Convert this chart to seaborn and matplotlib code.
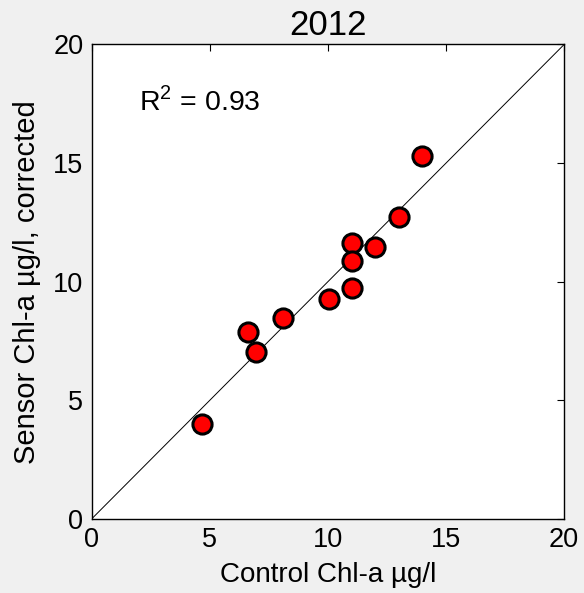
import matplotlib
matplotlib.use("Agg")
import matplotlib.pyplot as plt
import seaborn as sns
import pandas as pd

control = [4.67, 6.6, 6.97, 8.11, 10.03, 11.03, 11.03, 11.03, 12.01, 13.03, 13.99]
sensor = [4.0, 7.89, 7.05, 8.48, 9.27, 11.63, 10.86, 9.73, 11.45, 12.73, 15.29]
ticks = [0, 5, 10, 15, 20]
title = "2012"
xlabel = "Control Chl-a µg/l"
ylabel = "Sensor Chl-a µg/l, corrected"
r2_text = "R$^2$ = 0.93"

df = pd.DataFrame({"control": control, "sensor": sensor})

sns.set_style("white")
plt.rcParams['font.family'] = ['Liberation Sans', 'DejaVu Sans']
plt.rcParams['mathtext.fontset'] = 'custom'
plt.rcParams['mathtext.rm'] = 'Liberation Sans'
plt.rcParams['text.color'] = 'black'
plt.rcParams['axes.labelcolor'] = 'black'

fig = plt.figure(figsize=(5.84, 5.93), dpi=100, facecolor='#f0f0f0')
ax = fig.add_axes([0.157, 0.125, 0.809, 0.800])
ax.set_facecolor('white')

ax.plot([0, 20], [0, 20], color='black', lw=0.7, zorder=1)
sns.scatterplot(data=df, x="control", y="sensor", ax=ax, s=190, color='red',
                edgecolor='black', linewidth=2.2, zorder=3, legend=False)

ax.set_xlim(0, 20)
ax.set_ylim(0, 20)
ax.set_xticks(ticks)
ax.set_yticks(ticks)
ax.tick_params(direction='in', top=True, right=True, length=5, width=0.8,
               labelsize=19.5, pad=6, colors='black')
for s in ax.spines.values():
    s.set_color('black')
    s.set_linewidth(1.0)
ax.set_xlabel(xlabel, fontsize=20, labelpad=6, color='black')
ax.set_ylabel(ylabel, fontsize=21, labelpad=9, color='black')
ax.set_title(title, fontsize=25, pad=7, color='black')
ax.text(2.0, 17.6, r2_text, fontsize=20.5, va='center', ha='left', color='black')

fig.savefig("out.png", dpi=100, facecolor=fig.get_facecolor())
